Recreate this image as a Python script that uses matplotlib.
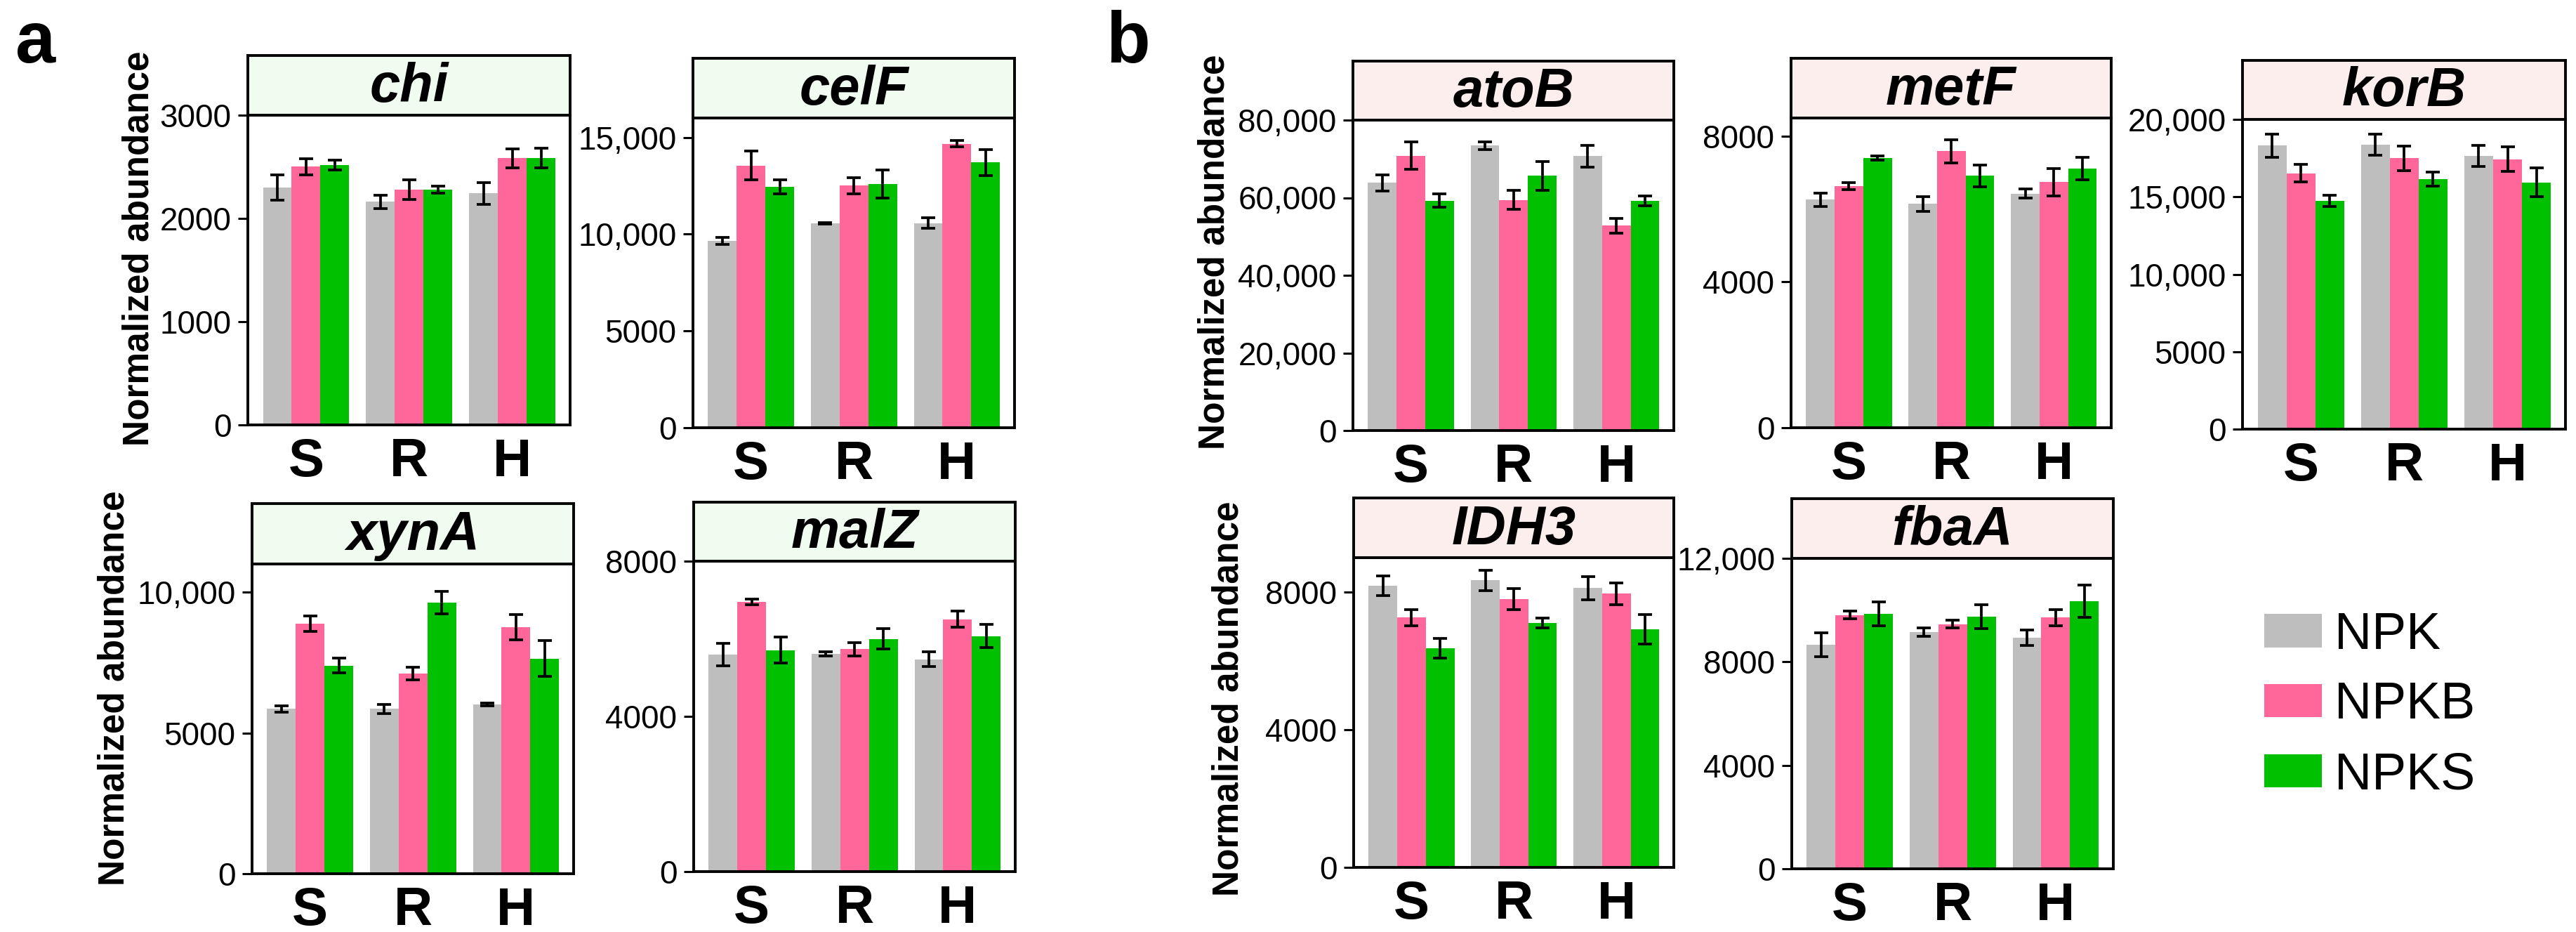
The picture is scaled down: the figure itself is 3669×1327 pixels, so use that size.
import numpy as np
import matplotlib
matplotlib.use('Agg')
import matplotlib.pyplot as plt
from matplotlib.patches import Patch
from matplotlib.ticker import FuncFormatter

plt.rcParams['font.family'] = ['Liberation Sans', 'DejaVu Sans']

# Data (rows: NPK, NPKB, NPKS ; columns: S, R, H)
sites = ['S', 'R', 'H']
treatments = ['NPK', 'NPKB', 'NPKS']
colors = ['#BEBEBE', '#FF6699', '#00C000']

chi_mean = [[2300, 2162, 2244], [2501, 2281, 2583], [2518, 2281, 2588]]
chi_err = [[125, 65, 105], [78, 95, 90], [50, 35, 95]]

celF_mean = [[9650, 10560, 10560], [13550, 12500, 14670], [12450, 12590, 13700]]
celF_err = [[190, 40, 270], [735, 420, 160], [375, 720, 675]]

xynA_mean = [[5850, 5850, 6010], [8880, 7110, 8750], [7390, 9630, 7640]]
xynA_err = [[110, 170, 50], [265, 235, 450], [265, 390, 635]]

malZ_mean = [[5590, 5610, 5470], [6950, 5730, 6500], [5710, 6000, 6070]]
malZ_err = [[295, 60, 190], [70, 170, 210], [340, 265, 305]]

atoB_mean = [[63850, 73470, 70690], [70840, 59420, 52810], [59270, 65650, 59190]]
atoB_err = [[2100, 1000, 2800], [3500, 2400, 1900], [1700, 3700, 1300]]

metF_mean = [[6260, 6140, 6420], [6630, 7590, 6740], [7400, 6910, 7120]]
metF_err = [[180, 195, 125], [90, 320, 370], [50, 290, 310]]

korB_mean = [[18310, 18370, 17650], [16530, 17500, 17430], [14740, 16150, 15940]]
korB_err = [[750, 685, 690], [565, 790, 805], [345, 450, 910]]

IDH3_mean = [[8180, 8340, 8120], [7260, 7790, 7950], [6360, 7100, 6920]]
IDH3_err = [[285, 300, 335], [240, 305, 315], [285, 140, 435]]

fbaA_mean = [[8670, 9160, 8930], [9810, 9460, 9710], [9860, 9750, 10350]]
fbaA_err = [[460, 160, 305], [155, 160, 305], [470, 470, 625]]

W, H = 3669, 1327
fig = plt.figure(figsize=(W / 100, H / 100), dpi=100)

green_strip = '#F0FCF0'
pink_strip = '#FDEEEE'

# name, mean, err, ylim top, yticks, (left, right, axis top, bottom, strip top) in px, strip colour
panels = [
    ('chi', chi_mean, chi_err, 3000, [0, 1000, 2000, 3000], (353, 812, 164, 605, 79), green_strip),
    ('celF', celF_mean, celF_err, 16000, [0, 5000, 10000, 15000], (987, 1445, 168, 609, 83), green_strip),
    ('xynA', xynA_mean, xynA_err, 11000, [0, 5000, 10000], (359, 817, 803, 1244, 717), green_strip),
    ('malZ', malZ_mean, malZ_err, 8000, [0, 4000, 8000], (988, 1446, 799, 1241, 715), green_strip),
    ('atoB', atoB_mean, atoB_err, 80000, [0, 20000, 40000, 60000, 80000], (1927, 2384, 171, 613, 87), pink_strip),
    ('metF', metF_mean, metF_err, 8500, [0, 4000, 8000], (2551, 3007, 168, 609, 83), pink_strip),
    ('korB', korB_mean, korB_err, 20000, [0, 5000, 10000, 15000, 20000], (3194, 3654, 170, 611, 86), pink_strip),
    ('IDH3', IDH3_mean, IDH3_err, 9000, [0, 4000, 8000], (1928, 2384, 794, 1235, 709), pink_strip),
    ('fbaA', fbaA_mean, fbaA_err, 12000, [0, 4000, 8000, 12000], (2552, 3010, 795, 1237, 710), pink_strip),
]


def fmt(v, pos):
    v = int(round(v))
    return f'{v:,}' if v >= 10000 else f'{v}'


x = np.arange(len(sites))
w = 0.279
lw = 2.8

for name, mean, err, top, ticks, (l, r, t, b, st), scol in panels:
    ax = fig.add_axes([l / W, 1 - b / H, (r - l) / W, (b - t) / H])
    for i in range(3):
        ax.bar(x + (i - 1) * w, mean[i], width=w, color=colors[i], zorder=2)
        ax.errorbar(x + (i - 1) * w, mean[i], yerr=err[i], fmt='none', ecolor='black',
                    elinewidth=2.7, capsize=7.5, capthick=2.7, zorder=3)
    ax.set_xlim(-0.565, 2.56)
    ax.set_ylim(0, top)
    ax.set_yticks(ticks)
    ax.yaxis.set_major_formatter(FuncFormatter(fmt))
    ax.set_xticks(x)
    ax.set_xticklabels(sites, fontsize=55, fontweight='bold')
    ax.tick_params(axis='x', length=0, pad=13)
    ax.tick_params(axis='y', length=10, width=2.2, labelsize=33, pad=7)
    for s in ax.spines.values():
        s.set_linewidth(lw)

    sax = fig.add_axes([l / W, 1 - t / H, (r - l) / W, (t - st) / H])
    sax.set_facecolor(scol)
    sax.set_xticks([])
    sax.set_yticks([])
    for s in sax.spines.values():
        s.set_linewidth(lw)
    sax.text(0.5, 0.47, name, transform=sax.transAxes, ha='center', va='center',
             fontsize=56, fontweight='bold', fontstyle='italic')

# y labels
for xp, yp in [(198, 354), (163, 980), (1730, 359), (1750, 995)]:
    fig.text(xp / W, 1 - yp / H, 'Normalized abundance', rotation=90, ha='center', va='center',
             fontsize=37, fontweight='bold')

# panel letters
fig.text(22 / W, 1 - 89 / H, 'a', fontsize=74, fontweight='bold', va='baseline')
fig.text(1575 / W, 1 - 89 / H, 'b', fontsize=74, fontweight='bold', va='baseline')

# legend
handles = [Patch(facecolor=c, edgecolor='none') for c in colors]
fig.legend(handles, treatments, loc='center left', bbox_to_anchor=(3225 / W, 1 - 1004 / H),
           frameon=False, fontsize=53, borderpad=0, borderaxespad=0, handlelength=1.12,
           handleheight=0.62, handletextpad=0.24, labelspacing=0.42)

fig.savefig('out.png', dpi=100)
